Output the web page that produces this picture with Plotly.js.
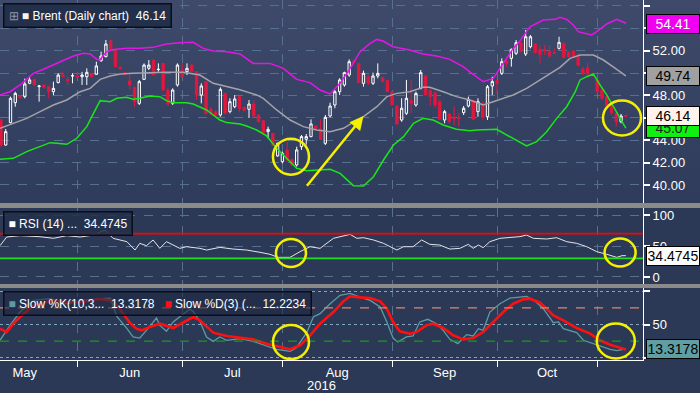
<!DOCTYPE html>
<html><head><meta charset="utf-8">
<script src="https://cdn.plot.ly/plotly-3.0.1.min.js"></script>
<style>
html,body{margin:0;padding:0;background:#2b3856;}
#chart{width:700px;height:393px;background:linear-gradient(to bottom,#3f4a6b 0px,#2e3b5b 205px,#2b3856 205px,#2b3856 393px);}
</style></head><body><div id="chart"></div>
<script>
// ---- Brent daily candles (trading-day index 0 = 10 May 2016) ----
const opens = [45.80,43.57,45.57,47.35,47.95,47.89,49.08,49.43,48.78,48.93,
48.78,48.33,49.14,49.82,49.43,49.73,49.73,49.67,49.67,49.97,
49.88,51.10,51.46,52.89,51.99,50.51,50.03,49.29,48.69,47.29,
49.43,50.42,51.16,50.30,50.86,48.48,47.29,48.93,50.27,50.12,
50.71,50.12,48.03,49.23,46.79,46.55,46.25,48.18,46.55,46.99,
47.90,46.93,46.76,47.23,46.25,45.74,44.76,44.61,42.59,42.08,
43.13,42.29,41.79,43.42,44.08,44.32,45.27,45.00,43.72,46.16,
47.14,48.33,48.93,49.82,51.07,50.86,49.08,49.67,49.08,49.73,
49.61,49.32,48.33,47.05,45.80,46.40,47.53,47.14,48.63,49.73,
48.42,48.24,47.44,45.80,46.34,46.04,46.04,46.46,47.05,47.53,
46.55,47.29,46.10,48.84,49.32,49.97,51.10,51.31,51.76,52.71,
51.70,52.35,52.59,52.11,52.11,51.96,51.82,52.20,52.65,51.88,
51.97,51.46,50.33,50.48,49.97,49.38,48.48,47.89,46.99,46.40,
45.65,46.22];
const highs = [45.90,45.00,47.89,48.33,48.00,49.50,49.67,49.50,48.93,49.00,
48.80,49.23,49.97,50.10,49.67,49.97,50.10,50.10,50.42,50.00,
51.01,51.91,52.95,52.95,52.00,50.60,50.10,50.00,48.78,49.38,
50.86,51.16,51.20,50.86,50.90,48.63,48.63,50.86,50.86,50.86,
50.80,50.12,49.08,49.30,47.00,46.70,48.72,48.20,47.74,48.03,
47.95,47.00,47.59,47.59,46.30,45.80,45.21,44.65,43.78,42.98,
43.87,42.30,43.42,44.46,44.55,45.86,45.30,45.86,46.25,47.35,
48.48,49.53,50.12,51.22,51.22,50.90,50.21,49.82,50.03,50.86,
49.65,49.35,48.35,47.14,47.74,49.38,49.38,48.33,50.27,49.80,
48.63,48.33,47.59,46.70,46.40,46.99,46.40,47.05,47.89,47.59,
47.74,47.44,48.93,49.67,49.35,51.31,51.46,52.20,52.95,52.75,
53.84,53.39,52.65,52.50,52.50,52.50,52.20,53.24,52.65,51.90,
52.00,51.76,50.57,50.92,50.00,49.53,48.63,47.95,47.44,46.55,
46.34,46.25];
const lows = [43.40,43.50,45.50,46.99,47.70,47.74,49.00,48.90,47.44,48.60,
47.74,48.00,49.08,49.60,48.93,49.08,49.50,48.93,48.93,49.60,
49.82,51.00,51.40,52.05,50.50,50.30,49.80,48.50,46.99,47.14,
49.38,50.27,49.80,50.12,48.40,47.05,47.14,48.78,49.60,49.82,
50.05,47.59,47.29,46.30,46.25,46.04,46.10,46.30,46.40,46.85,
46.50,46.60,45.98,45.98,45.60,44.60,44.17,43.50,42.53,41.93,
42.08,41.75,41.64,43.13,43.60,44.26,45.00,44.02,43.57,46.04,
46.85,48.03,48.78,49.67,50.86,49.10,48.78,48.93,48.93,49.53,
49.20,48.30,47.10,45.36,45.65,46.25,46.40,46.99,48.54,48.00,
47.05,46.93,45.80,45.51,45.51,45.36,45.21,46.25,46.93,45.80,
46.10,45.80,45.80,48.03,48.18,49.82,50.57,50.57,51.61,51.85,
51.52,52.20,51.75,50.86,51.60,51.40,51.70,52.10,51.31,51.40,
51.40,50.57,49.82,49.82,49.70,48.24,47.59,47.00,46.25,45.21,
45.51,46.10];
const closes = [43.57,44.76,47.74,48.18,47.80,49.02,49.38,48.93,48.84,48.72,
48.33,48.63,49.82,49.67,49.32,49.76,49.61,49.82,50.06,49.67,
50.63,51.52,52.59,52.11,50.57,50.36,49.88,48.93,47.44,49.23,
50.71,50.71,49.82,50.33,48.48,47.23,48.48,50.71,49.67,50.42,
50.12,48.03,48.84,46.40,46.40,46.25,48.54,46.40,47.44,47.68,
46.80,46.64,47.23,46.16,45.65,44.67,44.97,43.57,43.72,42.83,
42.23,41.79,43.13,44.32,44.32,45.45,45.06,44.08,46.04,47.05,
48.33,49.38,50.03,51.01,50.95,49.14,49.97,49.08,49.73,49.97,
49.23,48.33,47.14,45.45,46.85,47.74,47.29,48.18,50.03,48.03,
47.89,47.14,45.86,46.55,45.65,45.92,45.92,46.85,47.65,45.86,
47.44,46.04,48.78,49.23,49.08,51.01,50.86,52.11,52.71,51.91,
53.24,53.24,51.82,51.67,51.99,51.52,51.76,52.74,51.40,51.46,
51.46,50.71,49.97,49.91,49.82,48.33,47.74,47.05,46.46,45.65,
46.16,46.14];

// ---- Bollinger bands (x = trading-day index) ----
const bbUpperX = [-0.2,1.9,4.0,6.8,8.9,11.0,13.1,15.2,17.3,18.7,20.1,20.8,21.5,22.2,23.6,26.3,29.1,31.9,34.7,37.5,40.3,42.4,44.5,47.3,50.1,52.9,56.4,59.2,62.0,64.8,66.9,69.0,71.1,73.2,75.3,77.4,78.8,80.1,82.2,85.7,88.5,91.3,94.1,96.9,98.3,101.1,103.2,105.3,107.4,108.4,109.5,110.9,113.7,116.2,117.2,118.6,120.0,121.0,123.8,124.9,127.0,129.1,130.8,131];
const bbUpperY = [48.04,48.33,48.93,49.97,50.33,50.71,51.10,51.52,51.76,51.70,51.22,51.16,51.61,51.90,52.11,52.20,52.20,52.29,52.59,52.71,52.74,52.20,51.96,51.90,51.70,50.86,50.86,50.42,49.43,49.14,48.48,48.13,49.08,50.42,51.90,52.65,53.00,52.86,52.35,52.05,51.70,51.52,51.22,50.57,50.10,49.23,49.52,50.86,52.20,52.65,53.30,54.13,54.73,54.79,54.97,54.79,54.29,53.69,53.39,53.69,54.38,54.79,54.49,54.41];
const bbMidX = [-0.2,2.6,5.4,8.2,11.0,13.8,16.6,18.7,20.8,22.9,25.0,27.7,31.2,34.7,38.2,41.7,44.5,47.3,50.1,53.6,55.0,57.8,60.6,63.4,66.2,69.0,71.8,74.6,76.0,78.8,80.9,83.0,85.7,88.5,89.9,92.7,95.5,98.3,101.1,103.2,105.3,107.4,110.2,113.0,115.1,117.2,119.3,121.4,124.2,126.3,129.1,131];
const bbMidY = [45.06,45.51,45.95,46.55,47.14,47.59,48.33,48.63,49.43,49.73,49.91,49.97,50.03,50.06,50.06,49.82,49.08,48.78,48.50,48.04,47.74,46.70,45.80,45.21,44.91,44.76,45.06,45.80,46.10,46.99,47.89,48.18,48.33,48.72,48.72,48.33,47.89,47.59,47.14,47.44,47.74,48.04,48.63,49.38,49.97,50.51,51.31,51.61,51.61,51.16,50.33,49.74];
const bbLowX = [-0.2,2.6,5.4,8.2,10.3,11.7,13.8,15.9,18.0,19.4,20.8,22.9,24.3,26.3,27.7,29.1,31.2,33.3,34.7,36.1,38.9,40.3,41.7,43.1,45.9,47.3,50.1,51.5,53.6,55.7,57.8,59.9,62.0,64.1,66.2,69.0,71.1,72.5,73.9,76.0,78.1,80.2,82.3,84.4,86.5,88.5,90.6,92.7,95.5,98.3,99.7,103.9,106.0,108.1,110.2,112.3,114.4,116.5,118.6,120.4,121.4,122.8,124.2,125.6,127.0,128.4,129.8,131];
const bbLowY = [42.29,42.38,42.98,43.42,43.78,43.72,43.63,44.17,45.21,46.40,47.53,47.44,47.74,47.83,47.65,47.74,47.95,47.89,47.53,47.35,47.35,47.23,46.99,46.70,45.80,45.57,45.45,45.27,44.91,44.38,43.27,42.38,41.49,41.28,41.34,41.40,41.04,40.45,39.94,39.91,40.74,42.23,43.57,44.32,45.51,45.95,45.80,45.36,44.97,44.85,44.91,44.97,44.46,44.02,43.48,43.87,44.76,45.95,46.99,48.33,49.38,49.67,49.91,48.93,48.04,46.99,45.95,45.07];

// ---- RSI(14) ----
const rsiX = [-0.2,1.2,4.0,8.2,11.0,13.8,16.6,19.4,21.8,23.5,26.4,28.1,29.1,30.5,31.9,33.3,34.7,36.1,37.5,38.9,41.7,43.1,45.9,48.7,51.5,54.3,56.4,58.1,60.6,62.7,64.8,66.9,69.7,73.2,74.6,76.0,78.1,80.2,83.0,84.4,86.4,88.2,89.9,92.0,94.1,96.2,98.0,99.0,100.1,101.1,102.5,104.6,106.7,108.8,110.2,111.6,114.4,116.5,118.6,120.7,122.8,124.9,127.0,129.1,130.2,131];
const rsiY = [50.5,64.5,66.7,65.0,62.4,66.7,64.5,67.7,75.8,62.4,57.0,43.5,54.3,50.5,59.7,46.2,57.0,51.6,46.2,48.9,46.2,43.5,47.8,45.1,43.5,39.8,36.6,31.7,31.7,40.9,48.9,46.2,62.4,68.8,62.4,63.4,59.7,54.3,43.5,48.9,48.9,59.7,52.7,51.6,45.1,46.2,52.7,46.2,51.6,47.3,57.0,62.4,63.4,65.1,67.7,62.4,61.3,63.4,57.0,54.3,48.9,40.9,36.6,31.7,34.4,34.47];

// ---- Slow stochastic ----
const stochKX = [-0.2,1.9,4.0,6.8,10.3,13.8,17.3,20.1,22.9,24.3,26.3,27.7,29.1,30.5,32.6,33.3,34.7,36.1,37.5,39.6,40.3,41.7,43.1,44.5,45.9,47.3,50.1,52.9,55.7,57.8,60.6,61.9,64.1,65.5,66.9,69.0,71.1,73.2,75.3,77.4,79.5,80.9,82.2,83.2,85.0,86.4,87.8,89.5,91.3,92.7,94.1,95.8,97.6,99.0,100.1,101.1,102.5,104.6,106.7,108.8,110.2,112.0,113.7,115.8,116.9,117.9,120.7,122.1,124.9,127.7,129.1,131];
const stochKY = [26.2,48.8,68.8,86.4,88.9,81.3,86.4,88.4,89.9,62.0,45.0,31.2,29.6,41.2,59.8,48.7,39.7,53.8,61.3,73.3,69.8,54.8,31.2,24.6,31.2,26.2,28.7,24.6,17.6,12.6,9.6,14.6,37.7,61.3,66.3,81.3,93.9,96.9,91.4,86.4,76.3,53.8,29.6,23.6,31.2,32.7,53.8,57.8,51.2,41.2,27.6,21.1,34.7,32.7,43.7,41.2,68.8,81.3,89.9,91.9,92.4,84.9,73.8,52.7,53.8,43.7,37.7,26.2,19.6,12.6,10.6,13.32];
const stochDX = [-0.2,1.2,2.6,4.0,6.7,10.3,13.8,17.2,20.8,23.5,24.9,27.0,28.4,29.5,31.2,33.3,36.1,38.9,40.3,41.7,44.5,47.3,50.1,52.9,55.7,58.5,60.6,62.7,64.8,66.9,69.7,71.8,73.2,75.3,77.4,79.5,80.9,82.2,83.6,85.7,87.1,89.2,90.6,92.7,94.8,96.9,99.0,101.1,103.2,105.3,107.4,109.5,110.9,113.0,114.4,115.8,117.9,120.7,123.5,125.6,127.7,129.8,131];
const stochDY = [43.7,38.7,51.2,61.3,77.9,85.4,83.9,83.9,88.4,85.4,73.3,52.7,43.7,41.2,46.2,51.2,44.7,56.3,61.3,56.3,37.7,32.7,29.6,27.6,21.1,16.1,12.6,18.6,33.7,51.2,68.8,84.9,92.6,90.9,89.9,84.9,73.8,53.8,39.7,36.2,38.7,48.7,51.2,44.7,33.7,27.6,29.6,38.7,53.8,68.8,81.3,87.9,88.9,82.8,73.8,63.8,56.3,44.7,36.2,26.2,19.6,14.6,12.22];

// ---- Axis / labels ----
const monthEdges = [-6, 16, 38, 59, 82, 104, 125];   // first trading day of each month
const monthNames = ['May','Jun','Jul','Aug','Sep','Oct'];
const priceTicks = [40, 42, 44, 46, 48, 50, 52, 54, 56];
const priceTickText = ['40.00','42.00','44.00','','48.00','','52.00','','56.00']; // 46/50/54 sit under the value flags
const lastValues = {upper: 54.41, mid: 49.74, close: 46.14, lower: 45.07, rsi: 34.4745, k: 13.3178, d: 12.2234};
const rsiLevels = [70, 30];
const stochLevels = [75, 25];

const dayIndex = closes.map((_, i) => i);
const monthMid = monthNames.map((_, i) => (monthEdges[i] + monthEdges[i + 1]) / 2);

const FONT = 'Liberation Sans, Arial, sans-serif';
const GRID = '#58708f';

const traces = [
  {type:'candlestick', x:dayIndex, open:opens, high:highs, low:lows, close:closes,
   xaxis:'x', yaxis:'y', hoverinfo:'skip', whiskerwidth:0,
   increasing:{line:{color:'#ffffff', width:1}, fillcolor:'rgba(0,0,0,0)'},
   decreasing:{line:{color:'#e3173e', width:1}, fillcolor:'#e3173e'}},
  {type:'scatter', mode:'lines', x:bbUpperX, y:bbUpperY, yaxis:'y', line:{color:'#e614e6', width:1.5}, hoverinfo:'skip'},
  {type:'scatter', mode:'lines', x:bbMidX, y:bbMidY, yaxis:'y', line:{color:'#a3a3a8', width:1.5}, hoverinfo:'skip'},
  {type:'scatter', mode:'lines', x:bbLowX, y:bbLowY, yaxis:'y', line:{color:'#19e619', width:1.5}, hoverinfo:'skip'},
  {type:'scatter', mode:'lines', x:rsiX, y:rsiY, yaxis:'y2', line:{color:'#e6e6e6', width:1}, hoverinfo:'skip'},
  {type:'scatter', mode:'lines', x:stochKX, y:stochKY, yaxis:'y3', line:{color:'#5f9aa2', width:1.3}, hoverinfo:'skip'},
  {type:'scatter', mode:'lines', x:stochDX, y:stochDY, yaxis:'y3', line:{color:'#ff1010', width:2.6}, hoverinfo:'skip'}
];

const yCommon = {side:'right', anchor:'x', showline:true, linecolor:'#ffffff', linewidth:1,
  ticks:'outside', ticklen:6, tickwidth:2, tickcolor:'#ffffff', zeroline:false,
  gridcolor:GRID, griddash:'dash', gridwidth:1, tickfont:{color:'#ffffff', size:13, family:FONT}};

const shapes = [];
rsiLevels.forEach((v, k) => shapes.push({type:'line', xref:'x domain', x0:0, x1:1, yref:'y2', y0:v, y1:v,
  line:{color: k === 0 ? '#ff0000' : '#22dd22', width:1.6}}));
stochLevels.forEach((v, k) => shapes.push({type:'line', xref:'x domain', x0:0, x1:1, yref:'y3', y0:v, y1:v,
  line:{color: k === 0 ? '#e0866a' : '#1a9a1a', width:1.3, dash:'dash'}}));
// panel separators
[[0.4222,0.4361],[0.2,0.2111]].forEach(s => shapes.push({type:'rect', xref:'paper', yref:'paper',
  x0:0, x1:700/643, y0:s[0], y1:s[1], fillcolor:'#8a8a8a', line:{width:0}, layer:'above'}));
// yellow highlight circles
const circles = [
  {x:60.8, y:42.53, ax:'y', w:36, h:36}, {x:130.2, y:45.98, ax:'y', w:38, h:35},
  {x:60.8, y:38.7, ax:'y2', w:30, h:28}, {x:129.8, y:39.5, ax:'y2', w:31, h:28},
  {x:60.8, y:23.6, ax:'y3', w:36, h:34}, {x:128.9, y:25.2, ax:'y3', w:38, h:35}
];
circles.forEach(c => shapes.push({type:'circle', xref:'x', yref:c.ax, xsizemode:'pixel', ysizemode:'pixel',
  xanchor:c.x, yanchor:c.y, x0:-c.w/2, x1:c.w/2, y0:-c.h/2, y1:c.h/2, line:{color:'#f5f000', width:2.5}, layer:'above'}));

function valueBox(val, yref, txt, bg, fg) {
  return {xref:'paper', x:646/643, xanchor:'left', yref:yref, y:val, yanchor:'middle', text:txt,
    showarrow:false, bgcolor:bg, bordercolor:'#000000', borderwidth:1, borderpad:1, width:50, align:'center',
    font:{color:fg, size:14, family:FONT}};
}
const sp = '&#160;';
const annotations = [
  {xref:'paper', yref:'paper', x:3/643, y:1-3/360, xanchor:'left', yanchor:'top', showarrow:false, align:'left',
   text:'<span style="color:#8a96aa">⊞</span> <span style="color:#fff2ec">■</span> Brent (Daily chart)'+sp+sp+lastValues.close.toFixed(2),
   bgcolor:'#22304b', bordercolor:'#0a0e16', borderwidth:1.5, borderpad:4, font:{color:'#ffffff', size:12, family:FONT}},
  {xref:'paper', yref:'paper', x:3/643, y:(360-211)/360, xanchor:'left', yanchor:'top', showarrow:false, align:'left',
   text:'<span style="color:#ffffff">■</span> RSI (14) ...'+sp+sp+lastValues.rsi.toFixed(4),
   bgcolor:'rgba(34,48,75,0.85)', bordercolor:'#0a0e16', borderwidth:1.5, borderpad:4, font:{color:'#ffffff', size:12, family:FONT}},
  {xref:'paper', yref:'paper', x:3/643, y:(360-291)/360, xanchor:'left', yanchor:'top', showarrow:false, align:'left',
   text:'<span style="color:#5f9aa2">■</span> Slow %K(10,3...'+sp+sp+lastValues.k.toFixed(4)+sp+sp+sp+'<span style="color:#ff1010">■</span> Slow %D(3) (...'+sp+sp+lastValues.d.toFixed(4),
   bgcolor:'rgba(30,42,66,0.6)', bordercolor:'#0a0e16', borderwidth:1.5, borderpad:4, font:{color:'#ffffff', size:12, family:FONT}},
  valueBox(lastValues.upper, 'y', lastValues.upper.toFixed(2), '#f000f0', '#ffffff'),
  valueBox(lastValues.mid, 'y', lastValues.mid.toFixed(2), '#a0a0a0', '#000000'),
  valueBox(lastValues.lower, 'y', lastValues.lower.toFixed(2), '#10f010', '#222222'),
  valueBox(lastValues.close, 'y', lastValues.close.toFixed(2), '#fff2ec', '#000000'),
  valueBox(lastValues.rsi, 'y2', lastValues.rsi.toFixed(4), '#fbfbfb', '#000000'),
  valueBox(lastValues.k, 'y3', lastValues.k.toFixed(4), '#5f9ea3', '#000000'),
  {xref:'x', yref:'y', x:76.0, y:46.16, axref:'x', ayref:'y', ax:63.9, ay:39.79, text:'', showarrow:true,
   arrowhead:2, arrowsize:1.1, arrowwidth:2.5, arrowcolor:'#f5f000'},
  {xref:'paper', yref:'paper', x:0.5, y:(360-385)/360, xanchor:'center', yanchor:'middle', showarrow:false,
   text:'2016', font:{color:'#ffffff', size:13, family:FONT}}
];

const layout = {
  width:700, height:393, margin:{l:0, r:57, t:0, b:33},
  paper_bgcolor:'rgba(0,0,0,0)', plot_bgcolor:'rgba(0,0,0,0)', showlegend:false,
  font:{family:FONT, color:'#ffffff'},
  xaxis:{range:[-0.2,134.6], anchor:'y3', rangeslider:{visible:false}, showgrid:false, zeroline:false,
    tickvals:monthMid, ticktext:monthNames, ticks:'', showline:true, linecolor:'#ffffff', linewidth:1,
    tickfont:{color:'#ffffff', size:13, family:FONT},
    minor:{tickvals:monthEdges.slice(1), ticks:'outside', ticklen:6, tickcolor:'#ffffff', tickwidth:1,
      showgrid:true, gridcolor:GRID, griddash:'dash', gridwidth:1}},
  yaxis:Object.assign({}, yCommon, {domain:[0.4361,1], range:[38.39,56.52], tickvals:priceTicks, ticktext:priceTickText}),
  yaxis2:Object.assign({}, yCommon, {domain:[0.2111,0.4222], range:[-11.3,111.3], tickvals:[0,50,100]}),
  yaxis3:Object.assign({}, yCommon, {domain:[0,0.2], range:[-3.5,105], tickvals:[0,50,100], ticktext:['','50',''],
    griddash:'dot', gridcolor:'#7fa8c0'}),
  shapes:shapes, annotations:annotations
};

Plotly.newPlot('chart', traces, layout, {displayModeBar:false, staticPlot:true});
</script></body></html>
